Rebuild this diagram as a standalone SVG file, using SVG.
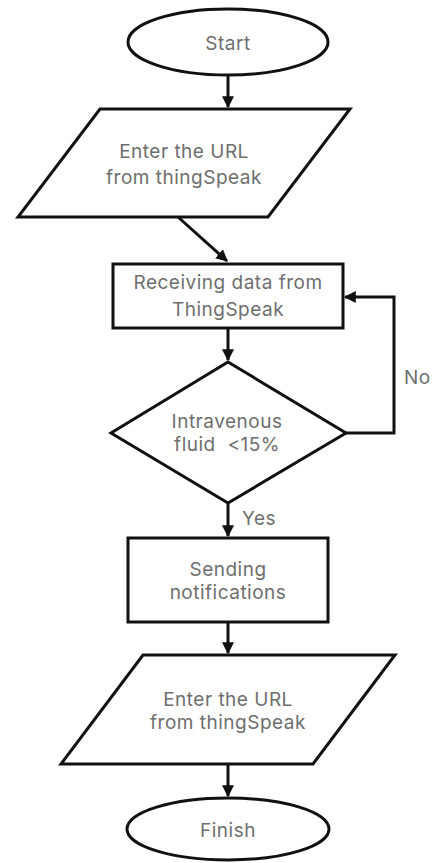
<svg xmlns="http://www.w3.org/2000/svg" width="432" height="863" viewBox="0 0 432 863">
<style>
.s{fill:#fff;stroke:#111;stroke-width:3}
.t{font-family:Inter,"Liberation Sans",sans-serif;font-size:19px;letter-spacing:0.5px;fill:#6e6e6e;text-anchor:middle}
.l{font-family:Inter,"Liberation Sans",sans-serif;font-size:19px;letter-spacing:0.5px;fill:#6e6e6e}
.c{fill:none;stroke:#111;stroke-width:3}
</style>
<defs>
<marker id="a" viewBox="0 0 10 10" refX="9" refY="5" markerWidth="4" markerHeight="4" orient="auto" markerUnits="strokeWidth">
<path d="M0,0 L10,5 L0,10 z" fill="#111"/>
</marker>
</defs>
<rect width="432" height="863" fill="#fff"/>
<g id="connectors">
<path class="c" d="M228,75 L228,107" marker-end="url(#a)"/>
<path class="c" d="M178,217 L227,261" marker-end="url(#a)"/>
<path class="c" d="M228,328 L228,360" marker-end="url(#a)"/>
<path class="c" d="M228,503 L228,536" marker-end="url(#a)"/>
<path class="c" d="M346,433 L394,433 L394,297 L345,297" marker-end="url(#a)"/>
<path class="c" d="M228,622 L228,653" marker-end="url(#a)"/>
<path class="c" d="M228,764 L228,796" marker-end="url(#a)"/>
<text class="l" x="404" y="384">No</text>
<text class="l" x="242" y="525">Yes</text>
</g>
<g id="start">
<ellipse class="s" cx="228" cy="42" rx="100" ry="33"/>
<text class="t" x="228" y="50">Start</text>
</g>
<g id="input1">
<polygon class="s" points="100,109 350,109 268,217 18,217"/>
<text class="t" x="184" y="158">Enter the URL</text>
<text class="t" x="184" y="184">from thingSpeak</text>
</g>
<g id="receive">
<rect class="s" x="113" y="264" width="230" height="64"/>
<text class="t" x="228" y="289">Receiving data from</text>
<text class="t" x="228" y="316">ThingSpeak</text>
</g>
<g id="decision">
<polygon class="s" points="228,362 346,433 228,503 111,433"/>
<text class="t" x="227" y="428">Intravenous</text>
<text class="t" x="227" y="451" xml:space="preserve">fluid  &lt;15%</text>
</g>
<g id="send">
<rect class="s" x="128" y="538" width="200" height="84"/>
<text class="t" x="228" y="576">Sending</text>
<text class="t" x="228" y="599">notifications</text>
</g>
<g id="input2">
<polygon class="s" points="143,655 395,655 313,764 61,764"/>
<text class="t" x="228" y="706">Enter the URL</text>
<text class="t" x="228" y="729">from thingSpeak</text>
</g>
<g id="finish">
<ellipse class="s" cx="228" cy="829" rx="101" ry="31"/>
<text class="t" x="228" y="837">Finish</text>
</g>
</svg>
